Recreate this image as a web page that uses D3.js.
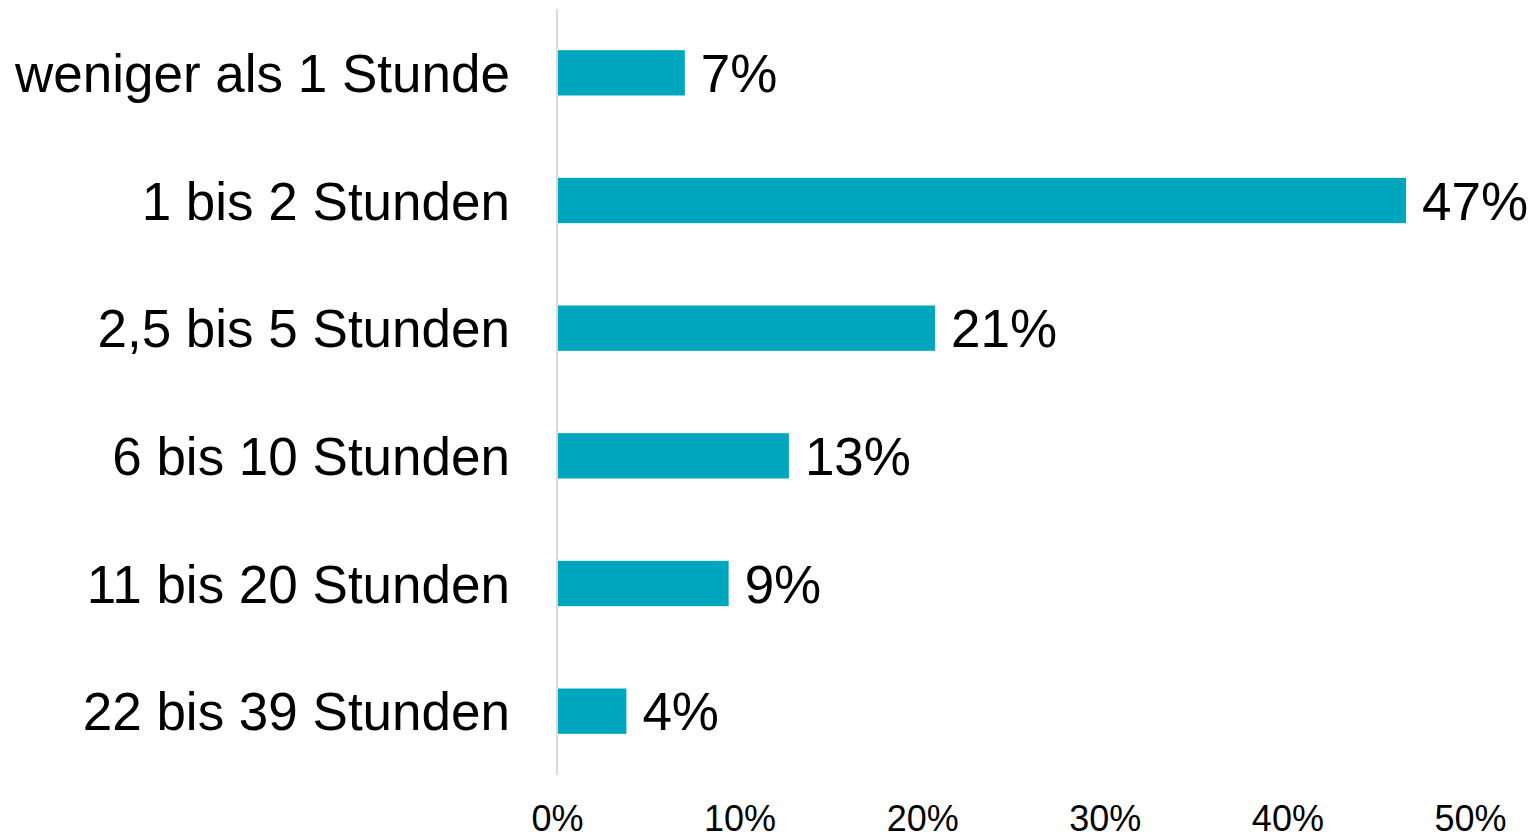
<!DOCTYPE html>
<html>
<head>
<meta charset="utf-8">
<script src="https://cdn.jsdelivr.net/npm/d3@7"></script>
<style>
  html, body { margin: 0; padding: 0; background: #fff; }
  svg { display: block; font-family: "Liberation Sans", Arial, sans-serif; }
</style>
</head>
<body>
<svg id="chart" width="1538" height="837"></svg>
<script>
// data
const categories = ["weniger als 1 Stunde", "1 bis 2 Stunden", "2,5 bis 5 Stunden",
                    "6 bis 10 Stunden", "11 bis 20 Stunden", "22 bis 39 Stunden"];
const values = [7.0, 46.5, 20.7, 12.7, 9.4, 3.8];
const ticks = [0, 10, 20, 30, 40, 50];

const svg = d3.select('#chart');
const margin = { top: 9, right: 68, bottom: 62, left: 557 };
const innerWidth = 1538 - margin.left - margin.right;
const innerHeight = 837 - margin.top - margin.bottom;

const data = categories.map((c, i) => ({ name: c, value: values[i] }));

const xScale = d3.scaleLinear()
    .domain([0, 50])
    .range([0, innerWidth]);
const yScale = d3.scaleBand()
    .domain(categories)
    .range([0, innerHeight])
    .paddingInner(0.645)
    .paddingOuter(0.3225);

const g = svg.append('g')
    .attr('transform', `translate(${margin.left}, ${margin.top})`);

// bars
g.selectAll('rect')
    .data(data)
    .enter()
    .append('rect')
    .attr('fill', '#00A6BD')
    .attr('x', 0)
    .attr('y', d => yScale(d.name))
    .attr('height', yScale.bandwidth())
    .attr('width', d => xScale(d.value));

// value labels
g.selectAll('.val')
    .data(data)
    .enter()
    .append('text')
    .attr('class', 'val')
    .attr('x', d => xScale(d.value) + 16)
    .attr('y', d => yScale(d.name) + yScale.bandwidth() / 2)
    .attr('dy', '0.36em')
    .style('font-size', '53px')
    .attr('fill', '#000')
    .text(d => Math.round(d.value) + '%');

// vertical axis line + category labels
const yAxis = d3.axisLeft(yScale).tickSize(0).tickPadding(47);
const yg = g.append('g').call(yAxis);
yg.select('.domain').attr('stroke', '#d9d9d9').attr('stroke-width', 2).attr('d', `M0,0V${innerHeight}`);
yg.selectAll('text').style('font-size', '53px').attr('fill', '#000').attr('dy', '0.36em');

// x axis tick labels only
const xAxis = d3.axisBottom(xScale).tickValues(ticks).tickSize(0).tickPadding(30)
    .tickFormat(d => d + '%');
const xg = g.append('g').attr('transform', `translate(0,${innerHeight})`).call(xAxis);
xg.select('.domain').remove();
xg.selectAll('text').style('font-size', '36px').attr('fill', '#000');
</script>
</body>
</html>
